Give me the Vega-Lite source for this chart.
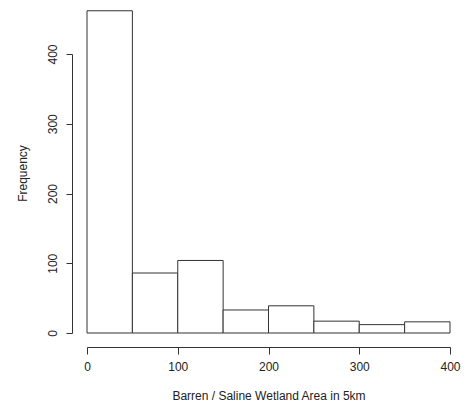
{
  "$schema": "https://vega.github.io/schema/vega-lite/v6.json",
  "autosize": {"type": "none"},
  "width": 393,
  "height": 347,
  "padding": {"left": 72, "top": 0, "right": 7, "bottom": 62},
  "background": "white",
  "config": {
    "view": {"stroke": null},
    "font": "Liberation Sans",
    "axis": {
      "grid": false,
      "domainColor": "#333333",
      "tickColor": "#333333",
      "labelColor": "#222222",
      "titleColor": "#222222",
      "labelFontSize": 12,
      "titleFontSize": 12,
      "titleFontWeight": "normal",
      "labelFont": "Liberation Sans",
      "titleFont": "Liberation Sans"
    }
  },
  "data": {
    "values": [
      {"bin_start": 0, "bin_end": 50, "count": 462},
      {"bin_start": 50, "bin_end": 100, "count": 86},
      {"bin_start": 100, "bin_end": 150, "count": 104},
      {"bin_start": 150, "bin_end": 200, "count": 33},
      {"bin_start": 200, "bin_end": 250, "count": 39},
      {"bin_start": 250, "bin_end": 300, "count": 17},
      {"bin_start": 300, "bin_end": 350, "count": 12},
      {"bin_start": 350, "bin_end": 400, "count": 16}
    ]
  },
  "mark": {"type": "bar", "fill": "white", "stroke": "#333333", "strokeWidth": 1},
  "encoding": {
    "x": {
      "field": "bin_start",
      "type": "quantitative",
      "scale": {"domain": [0, 400], "range": [15, 378], "nice": false, "zero": false},
      "axis": {
        "title": "Barren / Saline Wetland Area in 5km",
        "values": [0, 100, 200, 300, 400],
        "tickSize": 7,
        "labelPadding": 7,
        "titlePadding": 18,
        "labelFlush": false
      }
    },
    "x2": {"field": "bin_end"},
    "y": {
      "field": "count",
      "type": "quantitative",
      "scale": {"domain": [0, 400], "range": [333, 54], "nice": false, "zero": true},
      "axis": {
        "title": "Frequency",
        "values": [0, 100, 200, 300, 400],
        "tickSize": 6,
        "labelAngle": -90,
        "labelAlign": "center",
        "labelBaseline": "bottom",
        "labelPadding": 7,
        "labelFlush": false,
        "titleX": -50,
        "titleY": 173,
        "titleBaseline": "middle",
        "titleAlign": "center",
        "titleAngle": -90
      }
    },
    "y2": {"datum": 0}
  }
}
